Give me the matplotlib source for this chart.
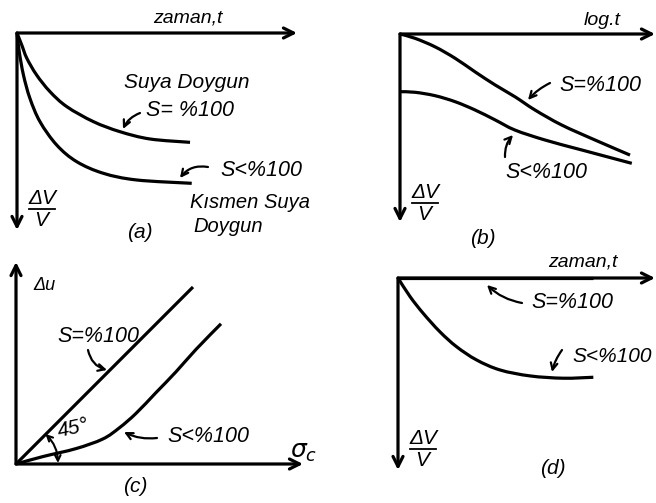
import matplotlib
matplotlib.use("Agg")
import matplotlib.pyplot as plt
import numpy as np
from matplotlib.path import Path
from matplotlib.patches import PathPatch

# ---- curve data (panel units: each axis arrow spans 10 units, c uses equal scales) ----
# (a) volume change vs. time
t_a_sat = [0, 0.17, 0.35, 0.70, 1.18, 1.78, 2.73, 3.68, 4.75, 6.18]
dv_a_sat = [0, 0.61, 1.28, 2.13, 2.98, 3.74, 4.50, 5.01, 5.38, 5.55]
t_a_part = [0, 0.08, 0.23, 0.46, 0.82, 1.42, 2.13, 3.08, 4.27, 6.24]
dv_a_part = [0, 0.95, 2.13, 3.31, 4.50, 5.69, 6.53, 7.12, 7.46, 7.63]

# (b) volume change vs. log time
t_b_sat = [0, 0.59, 1.37, 2.16, 2.94, 3.73, 4.51, 5.29, 6.34, 7.65, 9.02]
dv_b_sat = [0, 0.23, 0.68, 1.29, 2.01, 2.71, 3.34, 4.04, 4.84, 5.64, 6.44]
t_b_part = [0, 0.59, 1.37, 2.16, 2.94, 3.73, 4.51, 5.69, 7.13, 9.09]
dv_b_part = [3.07, 3.10, 3.28, 3.60, 4.04, 4.57, 5.11, 5.64, 6.17, 6.88]

# (c) pore pressure vs. cell pressure
sc_sat = [0, 8.85]
du_sat = [0, 8.85]
sc_part = [0, 1.34, 3.0, 4.34, 5.17, 6.0, 7.0, 8.0, 9.0, 10.25]
du_part = [0, 0.37, 0.77, 1.25, 1.81, 2.53, 3.57, 4.61, 5.73, 7.01]

# (d) volume change vs. time (saturated sample shows none)
t_d_sat = [0, 7.6]
dv_d_sat = [0, 0]
t_d_part = [0, 0.47, 0.98, 1.63, 2.28, 3.06, 3.97, 5.14, 6.43, 7.60]
dv_d_part = [0, 0.97, 1.84, 2.80, 3.58, 4.27, 4.79, 5.10, 5.22, 5.17]

W, H = 656, 503
fig = plt.figure(figsize=(W / 100, H / 100), dpi=100)
fig.patch.set_facecolor("white")

LW = 2.3
FONT = dict(family=["Liberation Sans", "DejaVu Sans"], style="italic", color="black")


def panel(x0, y0, x1, y1, xlim, ylim):
    """Axes whose box runs from pixel (x0, y0) to (x1, y1), measured from the top left."""
    ax = fig.add_axes([min(x0, x1) / W, 1 - max(y0, y1) / H,
                       abs(x1 - x0) / W, abs(y1 - y0) / H])
    ax.set_xlim(*xlim)
    ax.set_ylim(*ylim)
    ax.axis("off")
    return ax


def axis_arrow(ax, start, end):
    ax.annotate("", xy=end, xytext=start, annotation_clip=False,
                arrowprops=dict(arrowstyle="->", lw=LW, color="black",
                                shrinkA=0, shrinkB=0, mutation_scale=18))


def curve(ax, x, y):
    """Smooth pen stroke through the given points (Catmull-Rom as cubic Beziers)."""
    p = np.column_stack([x, y]).astype(float)
    if len(p) < 3:
        ax.plot(p[:, 0], p[:, 1], color="black", lw=LW, solid_capstyle="butt",
                clip_on=False)
        return
    ext = np.vstack([p[0], p, p[-1]])
    verts = [p[0]]
    codes = [Path.MOVETO]
    for i in range(1, len(ext) - 2):
        c1 = ext[i] + (ext[i + 1] - ext[i - 1]) / 6
        c2 = ext[i + 1] - (ext[i + 2] - ext[i]) / 6
        verts += [c1, c2, ext[i + 1]]
        codes += [Path.CURVE4] * 3
    ax.add_patch(PathPatch(Path(verts, codes), fill=False, ec="black", lw=LW,
                           capstyle="butt", joinstyle="round", clip_on=False))


# ---- panel (a) ----
ax_a = panel(17, 33, 297, 230, (0, 10), (10, 0))
axis_arrow(ax_a, (0, 0), (10, 0))
axis_arrow(ax_a, (0, 0), (0, 10))
curve(ax_a, t_a_sat, dv_a_sat)
curve(ax_a, t_a_part, dv_a_part)

# ---- panel (b) ----
ax_b = panel(400, 34, 655, 222, (0, 10), (10, 0))
axis_arrow(ax_b, (0, 0), (10, 0))
axis_arrow(ax_b, (0, 0), (0, 10))
curve(ax_b, t_b_sat, dv_b_sat)
curve(ax_b, t_b_part, dv_b_part)

# ---- panel (c) ----
ax_c = panel(16, 262, 303, 464, (0, 14.35), (0, 10.1))
axis_arrow(ax_c, (0, 0), (14.35, 0))
axis_arrow(ax_c, (0, 0), (0, 10.1))
curve(ax_c, sc_sat, du_sat)
curve(ax_c, sc_part, du_part)

# ---- panel (d) ----
ax_d = panel(398, 278, 655, 470, (0, 10), (10, 0))
axis_arrow(ax_d, (0, 0), (10, 0))
axis_arrow(ax_d, (0, 0), (0, 10))
curve(ax_d, t_d_sat, dv_d_sat)
curve(ax_d, t_d_part, dv_d_part)

# ---- labels, drawn on a transparent overlay in pixel units ----
ov = fig.add_axes([0, 0, 1, 1])
ov.set_xlim(0, W)
ov.set_ylim(H, 0)
ov.axis("off")
ov.patch.set_alpha(0)


def label(x, y, s, size=15, **kw):
    ov.text(x, y, s, ha="center", va="center", fontsize=size, **FONT, **kw)


def pointer(tail, head, rad=0.2):
    ov.annotate("", xy=head, xytext=tail, annotation_clip=False,
                arrowprops=dict(arrowstyle="->", lw=1.6, color="black",
                                shrinkA=0, shrinkB=0, mutation_scale=12,
                                connectionstyle=f"arc3,rad={rad}"))


def ratio(x, y):
    label(x, y - 11, "ΔV", size=15)
    label(x - 1, y + 12, "V", size=15)
    ov.plot([x - 13, x + 13], [y, y], color="black", lw=1.3)


# (a)
label(188, 18, "zaman,t", size=14)
label(187, 82, "Suya Doygun", size=15)
label(190, 110, "S= %100", size=15.5)
pointer((140, 113), (123, 129), rad=0.2)
label(261, 170, "S<%100", size=15.5)
pointer((208, 167), (180, 178), rad=0.3)
label(250, 203, "Kısmen Suya", size=14.5)
label(228, 226, "Doygun", size=14.5)
label(140, 232, "(a)", size=15)
ratio(42, 209)

# (b)
label(602, 20, "log.t", size=14)
label(600, 85, "S=%100", size=15.5)
pointer((550, 83), (528, 100), rad=0.1)
label(546, 173, "S<%100", size=15.5)
pointer((505, 157), (513, 135), rad=-0.2)
ratio(425, 203)
label(483, 238, "(b)", size=15)

# (c)
label(44, 285, "Δu", size=13)
label(98, 336, "S=%100", size=15.5)
pointer((88, 350), (107, 370), rad=0.3)
label(73, 428, "45°", size=15, rotation=12)
ov.annotate("", xy=(58, 463), xytext=(45.5, 434), annotation_clip=False,
            arrowprops=dict(arrowstyle="<->", lw=1.5, color="black",
                            shrinkA=0, shrinkB=0, mutation_scale=10,
                            connectionstyle="arc3,rad=-0.2"))
label(208, 437, "S<%100", size=15.5)
pointer((157, 438), (124, 432), rad=-0.15)
ov.text(304, 452, r"$\sigma_c$", ha="center", va="center", fontsize=18,
        color="black")
label(135, 487, "(c)", size=15)

# (d)
label(583, 262, "zaman,t", size=14)
label(572, 303, "S=%100", size=15.5)
pointer((522, 303), (487, 285), rad=-0.15)
label(612, 357, "S<%100", size=15)
pointer((562, 350), (552, 372), rad=0.1)
ratio(423, 449)
label(553, 468, "(d)", size=15)

fig.savefig("out.png", dpi=100, facecolor="white")
